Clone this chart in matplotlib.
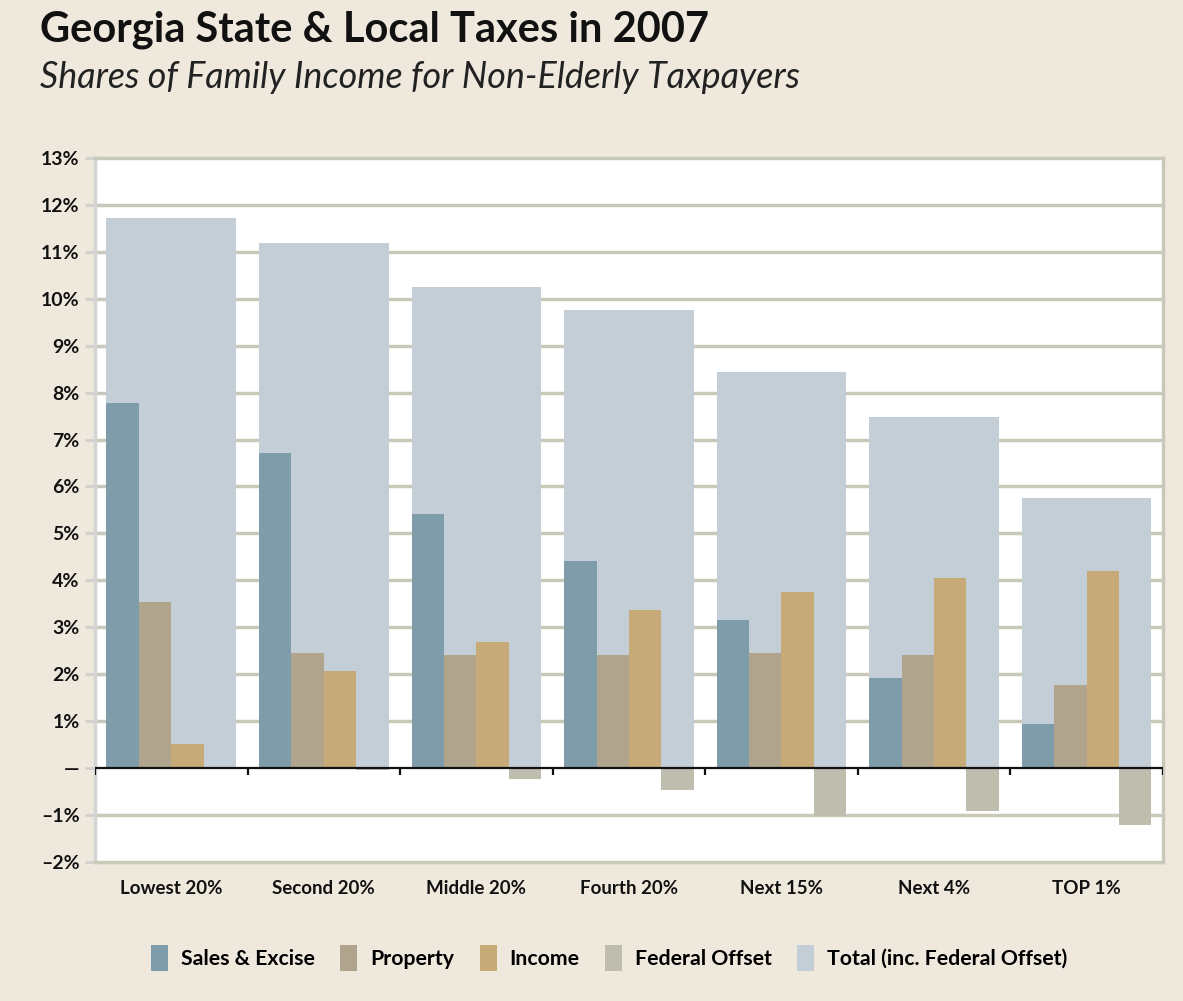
import matplotlib
matplotlib.use("Agg")
import matplotlib.pyplot as plt
from matplotlib.patches import Patch
import numpy as np

categories = ["Lowest 20%", "Second 20%", "Middle 20%", "Fourth 20%", "Next 15%", "Next 4%", "TOP 1%"]
sales_excise = [7.77, 6.71, 5.42, 4.42, 3.16, 1.93, 0.93]
property_tax = [3.53, 2.46, 2.42, 2.42, 2.46, 2.40, 1.78]
income_tax = [0.51, 2.06, 2.68, 3.36, 3.76, 4.06, 4.21]
federal_offset = [0.0, -0.05, -0.23, -0.47, -1.02, -0.92, -1.21]
total = [11.72, 11.19, 10.26, 9.75, 8.45, 7.48, 5.76]

yticks = [13, 12, 11, 10, 9, 8, 7, 6, 5, 4, 3, 2, 1, 0, -1, -2]
ytick_labels = ["13%", "12%", "11%", "10%", "9%", "8%", "7%", "6%", "5%", "4%", "3%", "2%", "1%", "\u2014", "\u20131%", "\u20132%"]

series_names = ["Sales & Excise", "Property", "Income", "Federal Offset", "Total (inc. Federal Offset)"]
colors = ["#7f9cab", "#b0a58c", "#c6aa78", "#bebdae", "#c4ced6"]

BG = "#efe8dc"
GRID = "#c9c9ba"
FONT = ["Lato", "DejaVu Sans"]
plt.rcParams["font.family"] = FONT

fig = plt.figure(figsize=(11.83, 10.01), dpi=100, facecolor=BG)
ax = fig.add_axes([0.0803, 0.1389, 0.9027, 0.7033])
ax.set_facecolor("white")

x = np.arange(len(categories))
tw = 0.85
nw = tw / 4

ax.bar(x, total, width=tw, color=colors[4], zorder=2)
for k, vals in enumerate([sales_excise, property_tax, income_tax, federal_offset]):
    ax.bar(x + (k - 1.5) * nw, vals, width=nw, color=colors[k], zorder=3)

ax.set_xlim(-0.5, len(categories) - 0.5)
ax.set_ylim(-2, 13)
ax.set_yticks(yticks)
ax.set_yticklabels(ytick_labels, fontsize=14, fontweight="bold", color="#111111")
for t in yticks:
    if t not in (13, -2, 0):
        ax.axhline(t, color=GRID, lw=2.5, zorder=1)
ax.tick_params(axis="y", length=7, width=2, color="#d0d0d0", pad=4)

ax.set_xticks(x)
ax.set_xticklabels(categories, fontsize=13.5, fontweight="bold", color="#111111")
ax.tick_params(axis="x", length=0, pad=13)

# zero line with boundary ticks
ax.axhline(0, color="#111111", lw=1.6, zorder=4)
ax.vlines(np.arange(len(categories) + 1) - 0.5, -0.14, 0, color="#111111", lw=1.6, zorder=4)

for side in ["top", "bottom", "right"]:
    ax.spines[side].set_color(GRID)
    ax.spines[side].set_linewidth(2.5)
ax.spines["left"].set_color("#d4d4d4")
ax.spines["left"].set_linewidth(2.5)

fig.text(0.034, 0.970, "Georgia State & Local Taxes in 2007", fontsize=30, fontweight="bold",
         color="#111111", ha="left", va="center")
fig.text(0.034, 0.923, "Shares of Family Income for Non-Elderly Taxpayers", fontsize=25.8, style="italic",
         color="#222222", ha="left", va="center")

handles = [Patch(facecolor=c, edgecolor="none") for c in colors]
leg = fig.legend(handles, series_names, loc="center", bbox_to_anchor=(0.515, 0.043), ncol=5,
                 frameon=False, handlelength=0.8, handleheight=1.5, columnspacing=1.2,
                 handletextpad=0.6, prop={"family": FONT, "weight": "bold", "size": 15.3})

fig.savefig("out.png", dpi=100, facecolor=BG)
